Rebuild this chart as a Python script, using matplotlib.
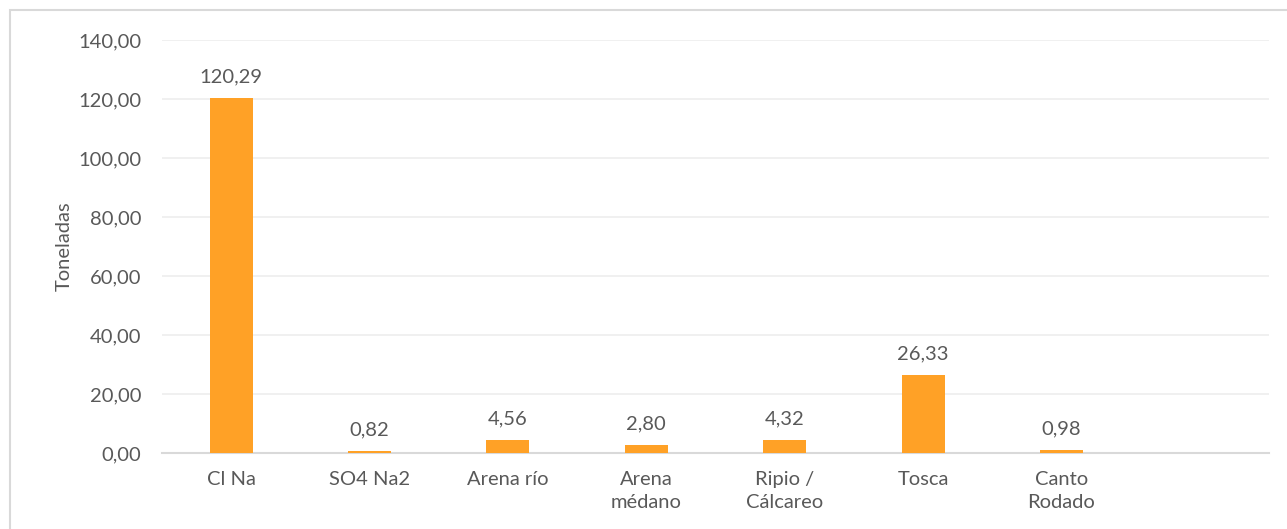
import numpy as np
import matplotlib.pyplot as plt
from matplotlib.patches import Rectangle
from matplotlib.ticker import FuncFormatter

# datos
categorias = ["Cl Na", "SO4 Na2", "Arena río", "Arena\nmédano", "Ripio /\nCálcareo",
              "Tosca", "Canto\nRodado", ""]
toneladas = [120.29, 0.82, 4.56, 2.80, 4.32, 26.33, 0.98, np.nan]
etiquetas = ["120,29", "0,82", "4,56", "2,80", "4,32", "26,33", "0,98", ""]

plt.rcParams["font.family"] = ["Lato", "DejaVu Sans"]
gris = "#595959"
fs = 14.5

fig = plt.figure(figsize=(12.87, 5.29), dpi=100)
# marco del grafico (recortado a la derecha y abajo)
fig.patches.append(Rectangle((10 / 1287, -0.1), 1.2, 1 - 10 / 529 + 0.1,
                             transform=fig.transFigure, fill=False,
                             edgecolor="#D9D9D9", linewidth=1.5))

ax = fig.add_axes([162 / 1287, 1 - 453 / 529, (1269 - 162) / 1287, (453 - 40) / 529])
x = np.arange(len(categorias))
barras = ax.bar(x, toneladas, width=0.31, color="#FFA126", zorder=3)

for xi, v, t in zip(x, toneladas, etiquetas):
    if t:
        ax.annotate(t, (xi, v), xytext=(0, 9), textcoords="offset points",
                    ha="center", va="bottom", fontsize=fs, color=gris)

ax.set_xlim(-0.5, len(categorias) - 0.5)
ax.set_ylim(0, 140)
ax.set_yticks(np.arange(0, 141, 20))
ax.yaxis.set_major_formatter(FuncFormatter(lambda v, p: f"{v:.2f}".replace(".", ",")))
ax.set_xticks(x)
ax.set_xticklabels(categorias, linespacing=1.4)
ax.tick_params(axis="both", length=0, labelsize=fs, labelcolor=gris)
ax.tick_params(axis="x", pad=13)
ax.tick_params(axis="y", pad=15)
ax.grid(axis="y", color="#EDEDED", linewidth=1.2, zorder=0)
for s in ["top", "right", "left"]:
    ax.spines[s].set_visible(False)
ax.spines["bottom"].set_color("#D9D9D9")
ax.spines["bottom"].set_linewidth(1.5)
ax.set_ylabel("Toneladas", fontsize=fs, color=gris, labelpad=4)

fig.savefig("out.png", dpi=100)
